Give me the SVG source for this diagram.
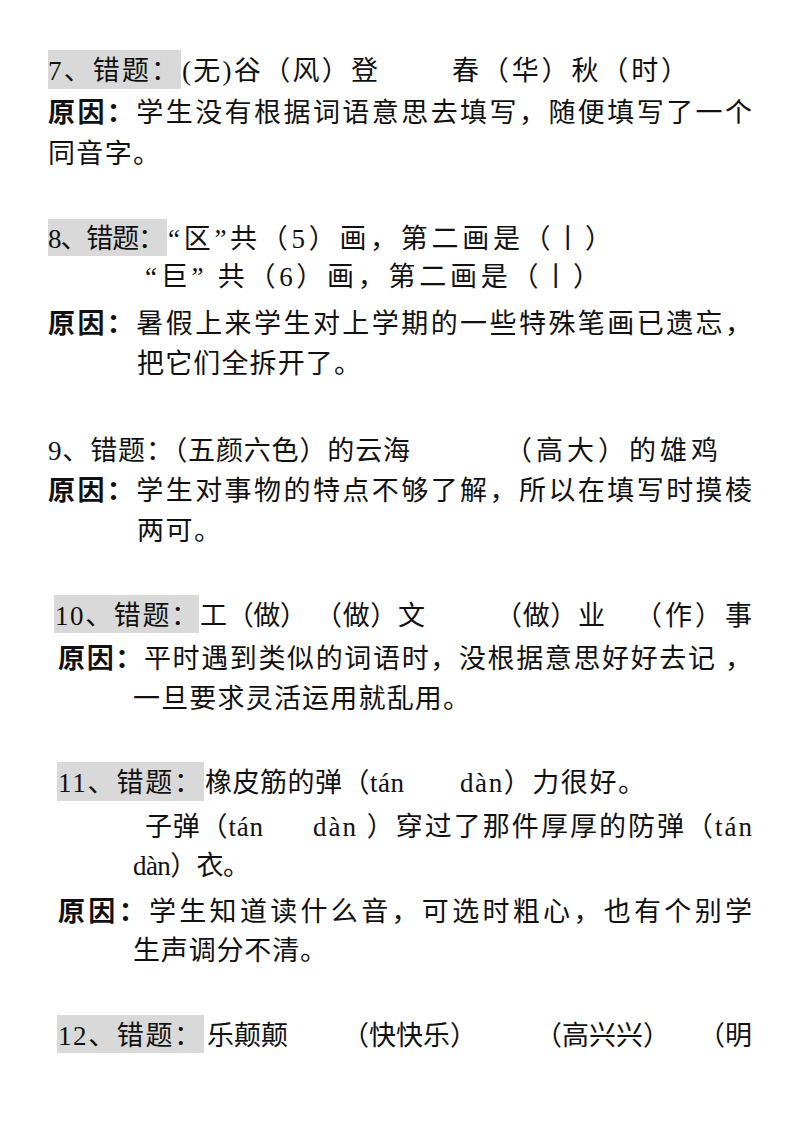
<svg xmlns="http://www.w3.org/2000/svg" width="800" height="1132" viewBox="0 0 800 1132">
<style>
text{font-family:"Liberation Serif","Noto Sans CJK SC",serif;font-size:27px;fill:#111}
.b{font-weight:bold}
.hl{fill:#d9d9d9}
</style>
<rect width="800" height="1132" fill="#fff"/>
<g id="q7">
<rect class="hl" x="48" y="50" width="133" height="39"/>
<text x="48" y="80" textLength="130" lengthAdjust="spacing">7、错题：</text>
<text x="182" y="80" textLength="196" lengthAdjust="spacing">(无)谷（风）登</text>
<text x="452" y="80" textLength="236" lengthAdjust="spacing">春（华）秋（时）</text>
<text x="48" y="122" textLength="704" lengthAdjust="spacing"><tspan class="b">原因：</tspan><tspan>学生没有根据词语意思去填写，随便填写了一个</tspan></text>
<text x="48" y="163" textLength="112" lengthAdjust="spacing">同音字。</text>
</g>
<g id="q8">
<rect class="hl" x="48" y="219" width="119" height="37"/>
<text x="48" y="248" textLength="117" lengthAdjust="spacing">8、错题：</text>
<text x="168" y="248" textLength="444" lengthAdjust="spacing">“区”共（5）画，第二画是（丨）</text>
<text x="145" y="286" textLength="455" lengthAdjust="spacing">“巨” 共（6）画，第二画是（丨）</text>
<text x="48" y="333" textLength="704" lengthAdjust="spacing"><tspan class="b">原因：</tspan><tspan>暑假上来学生对上学期的一些特殊笔画已遗忘，</tspan></text>
<text x="137" y="373" textLength="224" lengthAdjust="spacing">把它们全拆开了。</text>
</g>
<g id="q9">
<text x="48" y="460" textLength="362" lengthAdjust="spacing">9、错题：（五颜六色）的云海</text>
<text x="505" y="460" textLength="213" lengthAdjust="spacing">（高大）的雄鸡</text>
<text x="48" y="500" textLength="704" lengthAdjust="spacing"><tspan class="b">原因：</tspan><tspan>学生对事物的特点不够了解，所以在填写时摸棱</tspan></text>
<text x="137" y="540" textLength="84" lengthAdjust="spacing">两可。</text>
</g>
<g id="q10">
<rect class="hl" x="54" y="595" width="145" height="38"/>
<text x="55" y="625" textLength="143" lengthAdjust="spacing">10、错题：</text>
<text x="200" y="625" textLength="107" lengthAdjust="spacing">工（做）</text>
<text x="315" y="625" textLength="110" lengthAdjust="spacing">（做）文</text>
<text x="495" y="625" textLength="110" lengthAdjust="spacing">（做）业</text>
<text x="635" y="625" textLength="117" lengthAdjust="spacing">（作）事</text>
<text x="58" y="668" textLength="694" lengthAdjust="spacing"><tspan class="b">原因：</tspan><tspan>平时遇到类似的词语时，没根据意思好好去记 ，</tspan></text>
<text x="133" y="708" textLength="337" lengthAdjust="spacing">一旦要求灵活运用就乱用。</text>
</g>
<g id="q11">
<rect class="hl" x="57" y="762" width="147" height="39"/>
<text x="58" y="792" textLength="143" lengthAdjust="spacing">11、错题：</text>
<text x="205" y="792" textLength="199" lengthAdjust="spacing">橡皮筋的弹（tán</text>
<text x="460" y="792" textLength="185" lengthAdjust="spacing">dàn）力很好。</text>
<text x="145" y="836" textLength="118" lengthAdjust="spacing">子弹（tán</text>
<text x="313" y="836" textLength="439" lengthAdjust="spacing">dàn ）穿过了那件厚厚的防弹（tán</text>
<text x="133" y="875" textLength="117" lengthAdjust="spacing">dàn）衣。</text>
<text x="58" y="921" textLength="694" lengthAdjust="spacing"><tspan class="b">原因：</tspan><tspan>学生知道读什么音，可选时粗心，也有个别学</tspan></text>
<text x="133" y="960" textLength="194" lengthAdjust="spacing">生声调分不清。</text>
</g>
<g id="q12">
<rect class="hl" x="57" y="1015" width="147" height="38"/>
<text x="58" y="1045" textLength="143" lengthAdjust="spacing">12、错题：</text>
<text x="207" y="1045">乐颠颠</text>
<text x="342" y="1045">（快快乐）</text>
<text x="535" y="1045">（高兴兴）</text>
<text x="698" y="1045">（明</text>
</g>
<g id="connectors"/>
</svg>
